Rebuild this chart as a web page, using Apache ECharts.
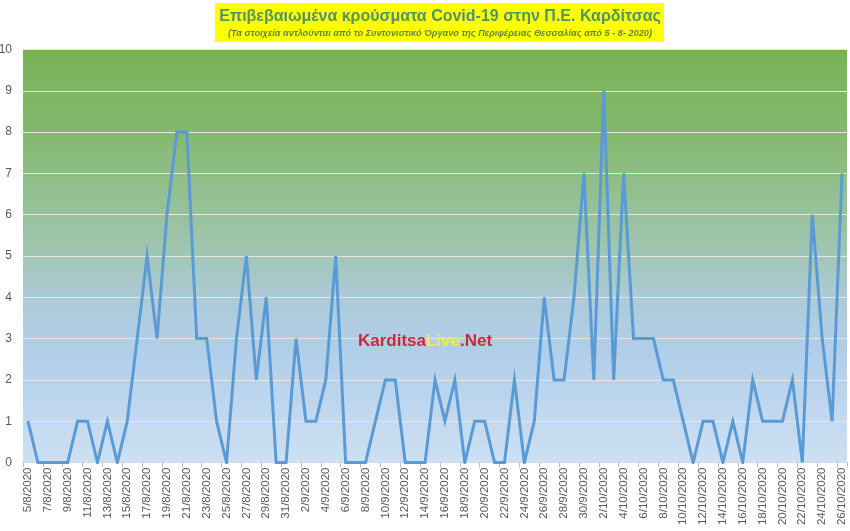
<!DOCTYPE html>
<html>
<head>
<meta charset="utf-8">
<script src="https://cdn.jsdelivr.net/npm/echarts@6/dist/echarts.min.js"></script>
<style>html,body{margin:0;padding:0;background:#fff}#c{width:850px;height:531px}</style>
</head>
<body>
<div id="c"></div>
<script>
const categories = [
 "5/8/2020","6/8/2020","7/8/2020","8/8/2020","9/8/2020","10/8/2020","11/8/2020","12/8/2020","13/8/2020","14/8/2020",
 "15/8/2020","16/8/2020","17/8/2020","18/8/2020","19/8/2020","20/8/2020","21/8/2020","22/8/2020","23/8/2020","24/8/2020",
 "25/8/2020","26/8/2020","27/8/2020","28/8/2020","29/8/2020","30/8/2020","31/8/2020",
 "1/9/2020","2/9/2020","3/9/2020","4/9/2020","5/9/2020","6/9/2020","7/9/2020","8/9/2020","9/9/2020","10/9/2020",
 "11/9/2020","12/9/2020","13/9/2020","14/9/2020","15/9/2020","16/9/2020","17/9/2020","18/9/2020","19/9/2020","20/9/2020",
 "21/9/2020","22/9/2020","23/9/2020","24/9/2020","25/9/2020","26/9/2020","27/9/2020","28/9/2020","29/9/2020","30/9/2020",
 "1/10/2020","2/10/2020","3/10/2020","4/10/2020","5/10/2020","6/10/2020","7/10/2020","8/10/2020","9/10/2020","10/10/2020",
 "11/10/2020","12/10/2020","13/10/2020","14/10/2020","15/10/2020","16/10/2020","17/10/2020","18/10/2020","19/10/2020","20/10/2020",
 "21/10/2020","22/10/2020","23/10/2020","24/10/2020","25/10/2020","26/10/2020"
];
const augValues = [1,0,0,0,0,1,1,0,1,0,1,3,5,3,6,8,8,3,3,1,0,3,5,2,4,0,0];
const sepValues = [3,1,1,2,5,0,0,0,1,2,2,0,0,0,2,1,2,0,1,1,0,0,2,0,1,4,2,2,4,7];
const octValues = [2,9,2,7,3,3,3,2,2,1,0,1,1,0,1,0,2,1,1,1,2,0,6,3,1,7];
const cases = augValues.concat(sepValues, octValues);
const yTicks = [0,1,2,3,4,5,6,7,8,9,10];

const titleText = "Επιβεβαιωμένα κρούσματα Covid-19 στην Π.Ε. Καρδίτσας";
const subtitleText = "(Τα στοιχεία αντλούνται από το Συντονιστικό Όργανο της Περιφέρειας Θεσσαλίας από 5 - 8- 2020)";

const chart = echarts.init(document.getElementById('c'));
chart.setOption({
  animation: false,
  grid: {
    left: 23, right: 3, top: 49.5, bottom: 68.5,
    containLabel: false, outerBoundsMode: 'none',
    show: true, borderWidth: 0,
    backgroundColor: new echarts.graphic.LinearGradient(0,0,0,1,[
      {offset:0, color:'#77b255'},
      {offset:0.2, color:'#84b96e'},
      {offset:0.45, color:'#9cc4a8'},
      {offset:0.62, color:'#aecbdc'},
      {offset:0.75, color:'#b2cfeb'},
      {offset:1, color:'#cde0f3'}
    ])
  },
  graphic: [
    {type:'rect', shape:{x:215, y:3, width:449, height:39}, style:{fill:'#ffff00'}, z:10},
    {type:'text', x:440, y:17, z:11, style:{text:titleText, fill:'#4e9470', font:'bold 16px "Liberation Sans", Arial, sans-serif', align:'center', verticalAlign:'middle'}},
    {type:'text', x:440, y:33, z:11, style:{text:subtitleText, fill:'#5f8a3a', font:'italic bold 9.2px "Liberation Sans", Arial, sans-serif', align:'center', verticalAlign:'middle'}},
    {type:'text', x:425, y:341, z:11, style:{
      text:'{a|Karditsa}{b|Live}{a|.Net}', align:'center', verticalAlign:'middle',
      rich:{
        a:{fill:'#cc2936', font:'bold 17px "Liberation Sans", sans-serif'},
        b:{fill:'#f2f230', font:'bold 17px "Liberation Sans", sans-serif'}
      }
    }}
  ],
  xAxis: {
    type:'category', data: categories, boundaryGap: true,
    axisLine:{show:true, lineStyle:{color:'#d9d9d9'}},
    axisTick:{show:true, interval:1, length:5, lineStyle:{color:'#bfbfbf'}},
    axisLabel:{interval:1, rotate:90, color:'#595959', fontSize:11.5, fontFamily:'"Liberation Sans", Arial, sans-serif', margin:5}
  },
  yAxis: {
    type:'value', min:0, max:10, interval:1,
    axisLine:{show:false}, axisTick:{show:false},
    axisLabel:{color:'#595959', fontSize:12, fontFamily:'"Liberation Sans", Arial, sans-serif', margin:11,
      formatter: v => yTicks.includes(v) ? String(v) : ''},
    splitLine:{show:true, lineStyle:{color:'#e6e6e6', width:1.2}}
  },
  series: [{
    type:'line', data: cases, symbol:'none',
    lineStyle:{color:'#5b9bd5', width:3, join:'miter'},
    z: 5
  }]
});
</script>
</body>
</html>
